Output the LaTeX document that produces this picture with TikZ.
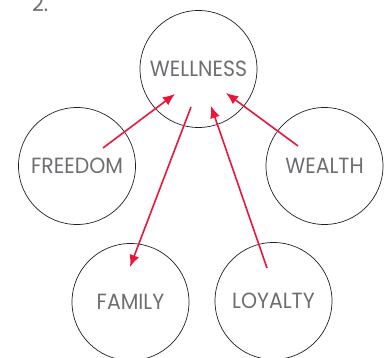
\documentclass[tikz,border=0pt]{standalone}
\usepackage{fontspec}
\setmainfont{Poppins}[FakeStretch=0.93]
\usetikzlibrary{arrows.meta}
\definecolor{linkred}{HTML}{E8173A}
\definecolor{labelgray}{HTML}{6D6E71}
\definecolor{ringgray}{HTML}{231F20}
\begin{document}
\begin{tikzpicture}[x=1pt,y=-1pt,
    value/.style={circle, draw=ringgray, line width=0.7pt, minimum size=117pt, inner sep=0pt,
      text=labelgray, font=\fontsize{22}{22}\selectfont},
    link/.style={draw=linkred, line width=1.6pt, -{Latex[length=12pt,width=10pt]}}]

    \useasboundingbox (0,0) rectangle (389,358);

    % number
    \node[anchor=base west, inner sep=0pt, text=labelgray, font=\fontsize{22}{22}\selectfont] (number) at (32,12) {2.};

    % circles
    \node[value] (wellness) at (198.5,69) {WELLNESS};
    \node[value] (freedom) at (77,166) {FREEDOM};
    \node[value] (wealth) at (324.5,166) {WEALTH};
    \node[value] (family) at (130.5,302) {FAMILY};
    \node[value] (loyalty) at (273.5,301) {LOYALTY};

    % arrow ends
    \coordinate (freedomout) at (103,148);
    \coordinate (freedomin) at (175,94);
    \coordinate (wealthout) at (298,146);
    \coordinate (wealthin) at (226,93);
    \coordinate (familyout) at (191,107);
    \coordinate (familyin) at (130,267);
    \coordinate (loyaltyout) at (267,268);
    \coordinate (loyaltyin) at (211,106);

    % arrows
    \draw[link] (freedomout) -- (freedomin);
    \draw[link] (wealthout) -- (wealthin);
    \draw[link] (familyout) -- (familyin);
    \draw[link] (loyaltyout) -- (loyaltyin);

\end{tikzpicture}
\end{document}
